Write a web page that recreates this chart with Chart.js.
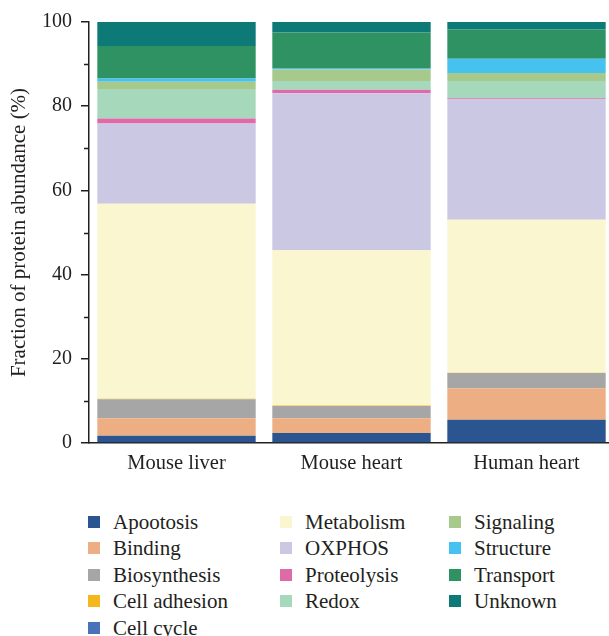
<!DOCTYPE html>
<html>
<head>
<meta charset="utf-8">
<script src="https://cdn.jsdelivr.net/npm/chart.js@4.4.1/dist/chart.umd.min.js"></script>
<style>
  html, body { margin: 0; padding: 0; background: #fff; overflow: hidden; width: 609px; height: 636px; }
  #wrap { position: relative; width: 609px; height: 636px; }
  #chart { position: absolute; left: 0; top: 0; }
  .lg { position: absolute; font-family: "Liberation Serif", "Times New Roman", serif; font-size: 21px; color: #231f20; white-space: nowrap; line-height: 24px; height: 24px; }
  .lg .box { position: absolute; left: 0; top: 6px; width: 12px; height: 12px; }
  .lg .txt { position: absolute; left: 25px; top: 0; }
</style>
</head>
<body>
<div id="wrap">
  <canvas id="chart" width="614" height="490"></canvas>
</div>
<script>
// Samples along the x axis
const categories = ["Mouse liver", "Mouse heart", "Human heart"];

// Functional classes, bottom of the stack first
const seriesNames = ["Apootosis", "Binding", "Biosynthesis", "Cell adhesion", "Cell cycle",
  "Metabolism", "OXPHOS", "Proteolysis", "Redox", "Signaling", "Structure", "Transport", "Unknown"];

const seriesColors = ["#2a5591", "#eeae84", "#a6a6a6", "#f4b81c", "#4a72b8",
  "#faf6cf", "#cbc8e4", "#de6aa8", "#a6d8bb", "#a7c98b", "#45c2ef", "#2e9263", "#0e7a78"];

// Fraction of protein abundance (%) per class: [Mouse liver, Mouse heart, Human heart]
const apoptosis    = [1.7, 2.4, 5.5];
const binding      = [4.2, 3.5, 7.5];
const biosynthesis = [4.5, 2.9, 3.6];
const cellAdhesion = [0.1, 0.1, 0.1];
const cellCycle    = [0.0, 0.0, 0.0];
const metabolism   = [46.3, 36.9, 36.3];
const oxphos       = [19.1, 37.3, 28.7];
const proteolysis  = [1.2, 0.8, 0.2];
const redox        = [7.0, 2.1, 4.1];
const signaling    = [1.7, 2.8, 1.9];
const structure    = [0.8, 0.3, 3.4];
const transport    = [7.7, 8.4, 6.9];
const unknown      = [5.7, 2.5, 1.8];

const seriesValues = [apoptosis, binding, biosynthesis, cellAdhesion, cellCycle,
  metabolism, oxphos, proteolysis, redox, signaling, structure, transport, unknown];

// Axis ticks
const yMajorTicks = [0, 20, 40, 60, 80, 100];
const yMinorTicks = [10, 30, 50, 70, 90];

const serif = "'Liberation Serif', 'Times New Roman', serif";
const axisColor = "#231f20";

// Short unlabeled ticks between the labeled ones
const minorTickPlugin = {
  id: "minorTicks",
  afterDraw(chart) {
    const y = chart.scales.y;
    const ctx = chart.ctx;
    ctx.save();
    ctx.strokeStyle = axisColor;
    ctx.lineWidth = 1.5;
    yMinorTicks.forEach(v => {
      const py = Math.round(y.getPixelForValue(v)) + 0.5;
      ctx.beginPath();
      ctx.moveTo(y.right - 5, py);
      ctx.lineTo(y.right, py);
      ctx.stroke();
    });
    ctx.restore();
  }
};

new Chart(document.getElementById("chart"), {
  type: "bar",
  data: {
    labels: categories,
    datasets: seriesNames.map((name, i) => ({
      label: name,
      data: seriesValues[i],
      backgroundColor: seriesColors[i],
      borderWidth: 0,
      categoryPercentage: 1.0,
      barPercentage: 0.905
    }))
  },
  options: {
    responsive: false,
    animation: false,
    layout: { padding: { top: 22, right: 0, left: 0, bottom: 0 } },
    plugins: {
      legend: { display: false },
      tooltip: { enabled: false }
    },
    scales: {
      x: {
        stacked: true,
        grid: { display: false, drawTicks: false },
        border: { display: true, color: axisColor, width: 1.5 },
        ticks: { color: axisColor, font: { family: serif, size: 20.5 }, padding: 8 },
        afterFit(scale) { scale.height = 47; }
      },
      y: {
        stacked: true,
        min: 0,
        max: 100,
        afterBuildTicks(scale) { scale.ticks = yMajorTicks.map(v => ({ value: v })); },
        grid: { drawOnChartArea: false, drawTicks: true, tickLength: 8, color: axisColor, tickColor: axisColor, lineWidth: 1.5 },
        border: { display: true, color: axisColor, width: 1.5 },
        ticks: { color: axisColor, font: { family: serif, size: 20 }, padding: 9 },
        title: {
          display: true,
          text: "Fraction of protein abundance (%)",
          color: axisColor,
          font: { family: serif, size: 21 },
          padding: { top: 7, bottom: 0 }
        },
        afterFit(scale) { scale.width = 89; }
      }
    }
  },
  plugins: [minorTickPlugin]
});

// Legend laid out in three columns, filled top to bottom
const legendColX = [88, 280, 449];
const legendRows = [5, 4, 4];
const wrap = document.getElementById("wrap");
let idx = 0;
legendRows.forEach((rows, c) => {
  for (let r = 0; r < rows; r++, idx++) {
    const item = document.createElement("div");
    item.className = "lg";
    item.style.left = legendColX[c] + "px";
    item.style.top = (510 + r * 26.4) + "px";
    const box = document.createElement("span");
    box.className = "box";
    box.style.background = seriesColors[idx];
    const txt = document.createElement("span");
    txt.className = "txt";
    txt.textContent = seriesNames[idx];
    item.appendChild(box);
    item.appendChild(txt);
    wrap.appendChild(item);
  }
});
</script>
</body>
</html>
